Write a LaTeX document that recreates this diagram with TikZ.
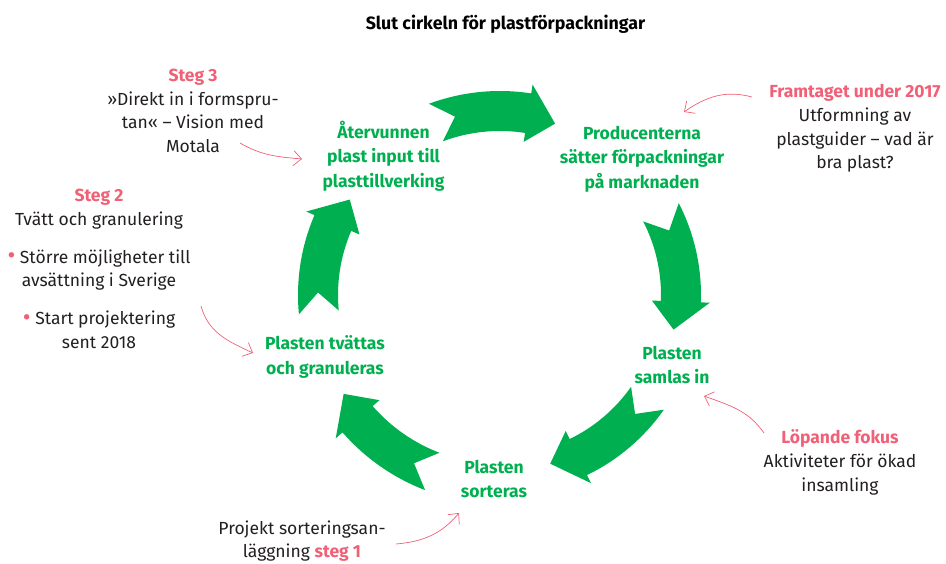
\documentclass[tikz,border=0pt]{standalone}
\usepackage{fontspec}
\setmainfont{Fira Sans}
\usetikzlibrary{arrows.meta}
\definecolor{cyclegreen}{RGB}{0,176,80}
\definecolor{notepink}{RGB}{240,96,118}
\definecolor{textgray}{RGB}{35,31,32}
\newcommand{\pinkdot}{\textcolor{notepink}{\raisebox{-0.04em}{\fontsize{24}{0}\selectfont\textbullet}}}

\begin{document}
\begin{tikzpicture}[
    x=1pt, y=1pt,
    stage/.style={font=\bfseries\fontsize{17.5}{24.5}\selectfont, text=cyclegreen, align=center, inner sep=0pt},
    note/.style={font=\fontsize{17.5}{23.7}\selectfont, text=textgray, align=center, inner sep=0pt},
    pointer/.style={-{Straight Barb[length=8pt, width=15pt]}, draw=notepink, line width=0.7pt},
    blockarrow/.style={fill=cyclegreen}
]
    \useasboundingbox (0,0) rectangle (946,563);
    \coordinate (c) at (500,268);

    \foreach \from/\to/\r in {110.4/81.2/184, 27.2/-2.1/181, -35/-64.2/180, -111/-138.9/189, 185.5/156.7/182}
        \fill[blockarrow, shift={(c)}] ({\from}:{\r+20}) arc[start angle=\from, end angle=\to, radius=\r+20]
            -- ({\to}:{\r+29}) -- ({\to-29/\r*57.3}:{\r-4}) -- ({\to}:{\r-29}) -- ({\to}:{\r-20})
            arc[start angle=\to, end angle=\from, radius=\r-20] -- ({\from-20/\r*57.3}:{\r}) -- cycle;

    \node[font=\bfseries\fontsize{17.8}{20}\selectfont] (title) at (505.5,539) {Slut cirkeln för plastförpackningar};

    \node[stage] (recycled) at (383.5,407) {Återvunnen\\plast input till\\plasttillverking};
    \node[stage] (producers) at (642,404) {Producenterna\\sätter förpackningar\\på marknaden};
    \node[stage] (collected) at (672,198) {Plasten\\samlas in};
    \node[stage] (sorted) at (494,84) {Plasten\\sorteras};
    \node[stage] (washed) at (325,206) {Plasten tvättas\\och granuleras};

    \node[note] (steg3) at (193,452) {\textcolor{notepink}{\textbf{Steg 3}}\\»Direkt in i formspru-\\tan« – Vision med\\Motala};
    \node[note] (steg2) at (99,294) {\textcolor{notepink}{\textbf{Steg 2}}\\Tvätt och granulering\\[14pt]\pinkdot\ Större möjligheter till\\avsättning i Sverige\\[14pt]\pinkdot\ Start projektering\\sent 2018};
    \node[note] (guide) at (855,434.5) {\textcolor{notepink}{\textbf{Framtaget under 2017}}\\Utformning av\\plastguider – vad är\\bra plast?};
    \node[note] (focus) at (840,100.5) {\textcolor{notepink}{\textbf{Löpande fokus}}\\Aktiviteter för ökad\\insamling};
    \node[note] (steg1) at (302,22) {Projekt sorteringsan-\\läggning \textcolor{notepink}{\textbf{steg 1}}};

    \coordinate (steg3from) at (240,420);
    \coordinate (steg3to) at (302,404);
    \coordinate (steg2from) at (201,257);
    \coordinate (steg2to) at (253,210);
    \coordinate (guidefrom) at (752,466);
    \coordinate (guideto) at (684,451);
    \coordinate (focusfrom) at (764,130);
    \coordinate (focusto) at (704,167);
    \coordinate (steg1from) at (396,19);
    \coordinate (steg1to) at (459,50);

    \draw[pointer] (steg3from) to[out=-30, in=175] (steg3to);
    \draw[pointer] (steg2from) to[out=-75, in=155] (steg2to);
    \draw[pointer] (guidefrom) to[out=165, in=35] (guideto);
    \draw[pointer] (focusfrom) to[out=125, in=-20] (focusto);
    \draw[pointer] (steg1from) to[out=5, in=-130] (steg1to);
\end{tikzpicture}
\end{document}
